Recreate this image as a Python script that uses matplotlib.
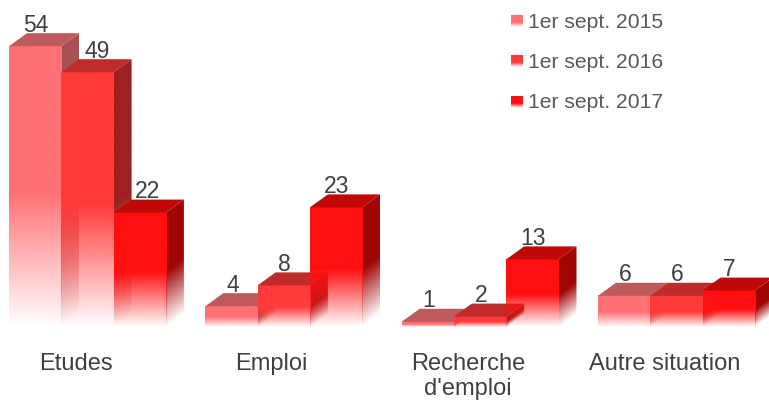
import numpy as np
import matplotlib
matplotlib.use("Agg")
import matplotlib.pyplot as plt
from matplotlib.colors import to_rgb
from matplotlib.patches import Polygon

plt.rcParams['font.family'] = ['Liberation Sans', 'DejaVu Sans']

categories = ["Etudes", "Emploi", "Recherche\nd'emploi", "Autre situation"]
series_names = ["1er sept. 2015", "1er sept. 2016", "1er sept. 2017"]
values_2015 = [54, 4, 1, 6]
values_2016 = [49, 8, 2, 6]
values_2017 = [22, 23, 13, 7]
series_values = [values_2015, values_2016, values_2017]
front_colors = ["#ff7074", "#ff3a3a", "#ff1010"]
top_colors = ["#bd5a5c", "#bf2a2a", "#c00808"]
side_colors = ["#a85052", "#9e2020", "#a00505"]
# label shifts in px, as placed by the original chart to avoid overlaps
label_shift = {(1, 0): 9, (2, 0): 7}

W, H = 769, 400
BASE_PX = 327
PX_PER_VAL = 5.2
PX_PER_CAT = 196.3
BAR_PX, DX_PX, DY_PX = 52.3, 18, 13
FIRST_PX = 75.5      # pixel position of first category centre
FADE = 0.48

fig = plt.figure(figsize=(W / 100, H / 100), dpi=100, facecolor="white")
ax = fig.add_axes([0, 1 - BASE_PX / H, 1, BASE_PX / H])
xlim = (-FIRST_PX / PX_PER_CAT, (W - FIRST_PX) / PX_PER_CAT)
ylim = (0, BASE_PX / PX_PER_VAL)

bw = BAR_PX / PX_PER_CAT
dx = DX_PX / PX_PER_CAT
dy = DY_PX / PX_PER_VAL
start = -66.5 / PX_PER_CAT


def rgba(color, alpha):
    img = np.ones(alpha.shape + (4,))
    img[..., :3] = to_rgb(color)
    img[..., 3] = alpha
    return img


def draw_bar(x0, v, series):
    x1 = x0 + bw
    fade_h = max(v * FADE, 0.01)
    # side face: skewed gradient, clipped to its parallelogram
    ny, nx = 220, 24
    sx = np.linspace(x1, x1 + dx, nx)
    sy = np.linspace(v + dy, 0, ny)
    xx, yy = np.meshgrid(sx, sy)
    base = (xx - x1) / dx * dy
    a = np.clip((yy - base) / fade_h, 0, 1)
    im = ax.imshow(rgba(side_colors[series], a), extent=(x1, x1 + dx, 0, v + dy),
                   aspect="auto", interpolation="bilinear", zorder=2)
    clip = Polygon([(x1, 0), (x1 + dx, dy), (x1 + dx, v + dy), (x1, v)],
                   transform=ax.transData, fill=False, edgecolor="none")
    ax.add_patch(clip)
    im.set_clip_path(clip)
    # front face
    fy = np.linspace(v, 0, 220)[:, None]
    a = np.clip(fy / fade_h, 0, 1)
    ax.imshow(rgba(front_colors[series], a), extent=(x0, x1, 0, v),
              aspect="auto", interpolation="bilinear", zorder=2)
    # top face
    ax.add_patch(Polygon([(x0, v), (x1, v), (x1 + dx, v + dy), (x0 + dx, v + dy)],
                         facecolor=top_colors[series], edgecolor="none", zorder=2))


for s, vals in enumerate(series_values):
    for c, v in enumerate(vals):
        x0 = c + start + s * bw
        draw_bar(x0, v, s)
        ax.annotate(str(v), (x0 + bw / 2, v + dy),
                    xytext=(1 + label_shift.get((s, c), 0), -3.5),
                    textcoords="offset pixels", ha="center", va="bottom",
                    fontsize=16.5, color="#404040", zorder=5,
                    annotation_clip=False)

ax.set_xlim(*xlim)
ax.set_ylim(*ylim)
ax.set_yticks([])
ax.set_xticks(range(len(categories)))
ax.set_xticklabels(categories, fontsize=17, color="#404040", linespacing=1.2)
ax.tick_params(axis="x", length=0, pad=18.6)
for sp in ax.spines.values():
    sp.set_visible(False)
ax.patch.set_alpha(0)

# legend drawn in pixel space
lg = fig.add_axes([0, 0, 1, 1], facecolor="none")
lg.set_axis_off()
for i, (name, col) in enumerate(zip(series_names, front_colors)):
    yc = 21 + i * 40.3
    a = np.clip((yc + 6 - np.linspace(yc - 6, yc + 6, 24))[:, None] / 4.5, 0, 1)
    lg.imshow(rgba(col, a), extent=(511, 523, yc + 6, yc - 6), origin="upper",
              aspect="auto", interpolation="bilinear")
    lg.text(528, yc + 1, name, fontsize=15.2, color="#595959", va="center", ha="left")
lg.set_xlim(0, W)
lg.set_ylim(H, 0)

fig.savefig("out.png", dpi=100, facecolor="white")
